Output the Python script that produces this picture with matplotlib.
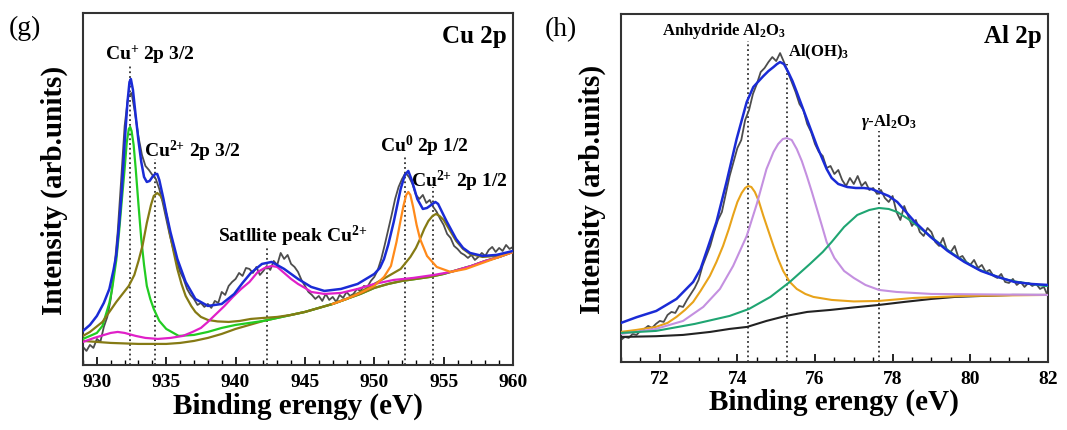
# %%
"""
XPS fits: (g) Cu 2p and (h) Al 2p, redrawn with matplotlib.
Curves are read off the published figure (arbitrary intensity units).
"""

import numpy as np
import matplotlib

matplotlib.use("Agg")
import matplotlib.pyplot as plt
from matplotlib.ticker import MultipleLocator

plt.rcParams["font.family"] = ["Liberation Serif", "DejaVu Serif"]
plt.rcParams["mathtext.fontset"] = "custom"
plt.rcParams["mathtext.rm"] = "Liberation Serif:bold"
plt.rcParams["mathtext.it"] = "Liberation Serif:italic:bold"
plt.rcParams["mathtext.bf"] = "Liberation Serif:bold"
plt.rcParams["mathtext.default"] = "rm"

# %%
# ---- Cu 2p panel data ----
cu_raw_start, cu_raw_stop = 929.0, 960.0
cu_raw = [18, 14, 20, 17, 26, 23, 38, 48, 66, 95,
          133, 185, 239, 268, 272, 252, 228, 210, 199, 195,
          190, 186, 176, 162, 146, 130, 116, 104, 93, 86,
          76, 70, 66, 60, 62, 58, 61, 57, 64, 62,
          73, 70, 79, 83, 86, 92, 89, 97, 96, 92,
          98, 90, 94, 99, 95, 104, 100, 112, 106, 110,
          101, 98, 93, 85, 79, 73, 70, 66, 69, 64,
          71, 65, 68, 63, 70, 67, 73, 69, 71, 76,
          74, 79, 78, 84, 88, 95, 106, 120, 135, 150,
          166, 178, 186, 192, 188, 181, 170, 166, 170, 162,
          165, 158, 153, 146, 140, 131, 127, 119, 116, 112,
          110, 107, 110, 105, 108, 112, 109, 115, 118, 113,
          117, 114, 120, 116, 118]

cu_env_x = [929.0, 929.5, 930.0, 930.5, 930.9, 931.2, 931.4, 931.6, 931.8, 932.0,
            932.2, 932.35, 932.45, 932.6, 932.8, 933.0, 933.2, 933.4, 933.6, 933.8,
            934.0, 934.2, 934.35, 934.5, 934.8, 935.0, 935.3, 935.8, 936.4, 937.1,
            938.0, 939.0, 939.9, 940.5, 941.1, 941.9, 942.6, 943.5, 944.5, 945.45,
            946.4, 947.6, 948.8, 950.0, 950.4, 950.7, 951.0, 951.4, 951.9, 952.2,
            952.45, 952.7, 953.1, 953.5, 953.8, 954.1, 954.4, 954.6, 955.2, 955.9,
            956.4, 956.9, 957.8, 958.8, 960.0]
cu_env_y = [34, 40, 49, 62, 76, 95, 110, 140, 175, 222,
            262, 283, 286, 275, 249, 224, 203, 188, 183, 184,
            188, 191, 191, 185, 166, 152, 133, 106, 83, 66,
            59, 61, 71, 82, 92, 101, 103, 96, 86, 78,
            74, 76, 81, 91, 97, 106, 120, 143, 176, 190,
            194, 185, 166, 156, 157, 160, 163, 161, 144, 126,
            117, 112, 109, 110, 114]

# Cu+ 2p 3/2 (green)
cu1_x = [929, 930, 930.4, 930.9, 931.1, 931.4, 931.6, 931.8, 932.0, 932.15,
         932.3, 932.4, 932.5, 932.65, 932.8, 933.0, 933.2, 933.4, 933.6, 933.85,
         934.1, 934.5, 935.0, 935.9, 937, 938, 939, 940, 941, 942,
         943, 944, 945, 946, 947, 948, 949, 950, 951, 952,
         953, 954, 955, 956, 957, 958, 959, 960]
cu1_y = [26, 32, 39, 62, 76, 105, 133, 165, 196, 222,
         236, 238, 234, 220, 196, 160, 126, 100, 79, 66,
         56, 44, 36, 29, 30, 33, 37, 40, 42, 44,
         47, 50, 53, 57, 61, 66, 71, 77, 81, 84,
         86, 88, 91, 95, 99, 104, 108, 113]

# Cu2+ 2p 3/2 (olive)
cu2_x = [929, 929.5, 930.4, 931.4, 932.3, 932.7, 933.0, 933.3, 933.6, 933.9,
         934.1, 934.35, 934.6, 934.8, 935.05, 935.3, 935.55, 935.8, 936.1, 936.4,
         936.8, 937.1, 937.5, 938.0, 938.7, 939.5, 940.3, 941.1, 942, 943,
         944, 945, 946, 947, 948, 949, 950, 951, 952, 953,
         954, 955, 956, 957, 958, 959, 960]
cu2_y = [29, 33, 43, 63, 79, 90, 104, 120, 142, 160,
         169, 172, 169, 163, 148, 129, 112, 96, 81, 69,
         59, 53, 48, 45, 43.5, 43, 44, 46, 47, 48,
         50, 53, 57, 61, 66, 71, 77, 81, 84, 86,
         88, 91, 95, 99, 104, 108, 113]

# satellite Cu2+ (magenta)
sat_x = [929, 929.8, 930.4, 931.0, 931.5, 932.0, 932.8, 933.5, 934.4, 935.3,
         936.2, 936.9, 937.5, 938.0, 938.6, 939.2, 939.8, 940.4, 941.0, 941.6,
         942.1, 942.6, 943.0, 943.5, 944.0, 944.5, 945.0, 945.45, 946.4, 947.6,
         948.8, 950.0, 951.4, 952.8, 954.3, 955.5, 956.5, 957, 958, 959,
         960]
sat_y = [23, 27, 29.5, 32, 33, 32, 29, 27, 26, 27,
         29, 33, 37, 43, 51, 59, 68, 76, 83, 93,
         97, 99, 98, 92, 86, 81, 77, 73, 71, 72,
         76, 81, 85, 87, 90, 93, 97, 99, 104, 108,
         113]

# Cu0 2p 1/2 (orange)
cu0_x = [947, 948, 949, 950, 950.7, 951.2, 951.6, 951.9, 952.1, 952.3,
         952.45, 952.6, 952.8, 953.05, 953.3, 953.8, 954.5, 955.5, 956.6, 957.8,
         958.8, 960]
cu0_y = [61, 66, 72, 79, 88, 99, 123, 145, 159, 170,
         173, 170, 158, 140, 126, 109, 98, 93, 96, 102,
         107, 113]

# Cu2+ 2p 1/2 (olive, includes background on the low-energy side)
cu4_x = [929, 930, 931, 932, 933, 934, 935, 936, 937, 938,
         939, 940, 941, 942, 943, 944, 945, 946, 947, 948,
         949, 950, 950.9, 951.9, 952.6, 953.0, 953.3, 953.6, 953.9, 954.2,
         954.45, 954.7, 955.0, 955.3, 955.6, 955.9, 956.4, 956.9, 957.8, 958.8,
         960]
cu4_y = [24, 23, 22, 21.5, 21, 21, 21, 22, 24, 27,
         31, 36, 40, 44, 47, 50, 53, 57, 61, 66,
         73, 81, 88, 96, 108, 117, 126, 136, 144, 149,
         151, 149, 145, 138, 131, 124, 116, 111, 108, 109,
         113]

cu_marks = [932.4, 934.2, 942.3, 952.2, 954.2]
cu_mark_tops = [301, 206, 118, 209, 178]
cu_labels = ["Cu$^{{+}}$ 2p 3/2", "Cu$^{2{+}}$ 2p 3/2", "Satllite peak Cu$^{2{+}}$",
             "Cu$^{0}$ 2p 1/2", "Cu$^{2{+}}$ 2p 1/2"]
cu_label_x = [933.8, 936.9, 944.1, 953.6, 956.1]
cu_label_y = [311, 215, 130, 220, 185]

# %%
# ---- Al 2p panel data ----
al_raw_start, al_raw_stop = 71.0, 82.0
al_raw = [22, 25, 24, 28, 27, 31, 33, 36, 34, 38,
          41, 40, 47, 50, 49, 56, 55, 62, 68, 74,
          82, 96, 106, 116, 130, 142, 150, 168, 186, 200,
          214, 222, 242, 252, 268, 278, 290, 294, 300, 305,
          301, 309, 300, 290, 280, 270, 258, 252, 238, 230,
          218, 210, 206, 194, 196, 188, 192, 182, 176, 184,
          178, 186, 176, 180, 172, 174, 168, 172, 164, 160,
          166, 150, 142, 156, 146, 136, 142, 130, 126, 134,
          130, 120, 116, 124, 112, 110, 116, 104, 106, 100,
          97, 102, 94, 97, 90, 92, 86, 84, 88, 80,
          79, 83, 77, 80, 75, 79, 76, 78, 73, 75,
          66]

al_env_x = [71.0, 71.4, 71.91, 72.43, 72.86, 73.05, 73.2, 73.46, 73.72, 73.98,
            74.24, 74.41, 74.55, 74.67, 74.8, 74.93, 75.02, 75.1, 75.2, 75.31,
            75.42, 75.53, 75.79, 76.05, 76.3, 76.43, 76.6, 76.83, 77.05, 77.26,
            77.45, 77.65, 77.9, 78.12, 78.55, 78.98, 79.42, 79.85, 80.28, 80.71,
            81.14, 81.57, 82.0]
al_env_y = [39, 44.7, 51, 63, 80, 93, 110, 140, 180, 223,
            260, 275, 281, 286, 291, 295, 298, 300, 298, 290,
            281, 270, 243, 216, 193, 184, 178, 175, 174, 174,
            173, 170, 166, 160, 141, 125, 111, 100, 91, 85,
            80, 78, 77]

al_bg_x = [71.0, 71.9, 72.6, 73.3, 73.8, 74.25, 74.75, 75.25, 75.8, 76.4,
           77.0, 77.65, 78.3, 79.0, 79.6, 80.3, 81.1, 82.0]
al_bg_y = [25, 25.7, 27, 30, 33, 35, 41, 46, 50, 52,
           54.5, 57, 60, 63, 65, 66, 67, 67]

# anhydride Al2O3 (gold)
al1_x = [71.0, 71.4, 71.9, 72.2, 72.43, 72.65, 72.86, 73.05, 73.29, 73.46,
         73.63, 73.78, 73.89, 74.0, 74.11, 74.2, 74.28, 74.36, 74.45, 74.55,
         74.67, 74.8, 74.93, 75.05, 75.18, 75.35, 75.53, 75.75, 75.96, 76.43,
         77.0, 77.65, 78.55, 79.85, 82.0]
al1_y = [30, 32, 35, 39, 45, 52, 60, 71, 86, 100,
         116, 133, 147, 160, 169, 174, 176, 175, 170, 161,
         146, 131, 116, 103, 91, 80, 73, 68, 65, 62,
         60.5, 61, 64, 66, 67]

# Al(OH)3 (lilac)
al2_x = [71.0, 71.9, 72.6, 73.12, 73.55, 73.89, 74.24, 74.5, 74.75, 74.93,
         75.05, 75.17, 75.27, 75.4, 75.53, 75.66, 75.79, 75.92, 76.05, 76.18,
         76.3, 76.5, 76.75, 77.0, 77.3, 77.65, 78.1, 79.0, 80.5, 82.0]
al2_y = [28, 33, 41, 55, 73, 96, 126, 158, 193, 210,
         218, 223, 224, 222, 213, 201, 186, 170, 153, 136,
         120, 104, 91, 84, 77, 72, 70, 68, 67.5, 67]

# gamma-Al2O3 (green)
al3_x = [71.0, 71.9, 72.9, 73.8, 74.3, 74.85, 75.35, 75.87, 76.2, 76.43,
         76.75, 77.09, 77.4, 77.65, 77.9, 78.12, 78.4, 78.64, 78.9, 79.16,
         79.42, 79.67, 79.93, 80.19, 80.45, 80.71, 80.97, 81.23, 81.57, 81.91,
         82.0]
al3_y = [29, 31, 38, 46, 53, 65, 80, 98, 110, 120,
         135, 147, 152, 154, 153, 150, 143, 136, 128, 120,
         112, 105, 99, 93, 89, 85, 82, 80, 78, 76,
         76]

al_marks = [74.28, 75.28, 77.65]
al_mark_tops = [321, 298, 231]
al_labels = ["Anhydride Al$_2$O$_3$", "Al(OH)$_3$", "$\\mathit{\\gamma}$-Al$_2$O$_3$"]
al_label_x = [73.65, 75.3, 77.9]
al_label_y = [332, 311, 241]
al_label_ha = ["center", "left", "center"]


# %%
def style_axes(ax, xlim, ylim, major, minor):
    """Box frame, inward ticks on the bottom only, no y ticks."""
    ax.set_xlim(*xlim)
    ax.set_ylim(*ylim)
    ax.xaxis.set_major_locator(MultipleLocator(major))
    ax.xaxis.set_minor_locator(MultipleLocator(minor))
    ax.tick_params(axis="x", which="major", direction="in", length=6, width=1.2,
                   pad=6, labelsize=14, top=False)
    ax.tick_params(axis="x", which="minor", direction="in", length=3.5, width=1.0,
                   top=False)
    ax.set_yticks([])
    for lab in ax.get_xticklabels():
        lab.set_fontweight("bold")
    for sp in ax.spines.values():
        sp.set_linewidth(1.5)
        sp.set_color("#333333")
    ax.set_xlabel("Binding erengy (eV)", fontsize=21, fontweight="bold")
    ax.set_ylabel("Intensity (arb.units)", fontsize=21, fontweight="bold")
    ax.xaxis.set_label_coords(0.5, -0.075)
    ax.yaxis.set_label_coords(-0.035, 0.5)


fig = plt.figure(figsize=(10.67, 4.31), dpi=100)
ax1 = fig.add_axes([0.0778, 0.151, 0.403, 0.8165])
ax2 = fig.add_axes([0.582, 0.158, 0.400, 0.807])

# %%
# Cu 2p
cu_x = np.linspace(cu_raw_start, cu_raw_stop, len(cu_raw))
ax1.plot(cu_x, cu_raw, color="#4d4d4d", lw=1.3, zorder=2)
ax1.plot(cu4_x, cu4_y, color="#857a14", lw=1.6, zorder=3)
ax1.plot(cu1_x, cu1_y, color="#22cc22", lw=1.6, zorder=3)
ax1.plot(cu2_x, cu2_y, color="#857a14", lw=1.6, zorder=3)
ax1.plot(sat_x, sat_y, color="#e020c8", lw=1.6, zorder=3)
ax1.plot(cu0_x, cu0_y, color="#ff8a1a", lw=1.6, zorder=3)
ax1.plot(cu_env_x, cu_env_y, color="#1a2bd6", lw=1.8, zorder=4)
ax1.vlines(cu_marks, 0, cu_mark_tops, colors="#333333", linestyles=":", lw=1.3, zorder=1)
for lab, lx, ly in zip(cu_labels, cu_label_x, cu_label_y):
    ax1.text(lx, ly, lab, ha="center", va="center", fontsize=14, fontweight="bold")
ax1.text(0.986, 0.935, "Cu 2p", transform=ax1.transAxes, ha="right", va="center",
         fontsize=18, fontweight="bold")
style_axes(ax1, (929.0, 960.0), (0, 352), 5, 1)

# %%
# Al 2p
al_x = np.linspace(al_raw_start, al_raw_stop, len(al_raw))
ax2.plot(al_x, al_raw, color="#4d4d4d", lw=1.3, zorder=2)
ax2.plot(al_bg_x, al_bg_y, color="#222222", lw=1.5, zorder=3)
ax2.plot(al1_x, al1_y, color="#e8a31a", lw=1.5, zorder=3)
ax2.plot(al2_x, al2_y, color="#c490e0", lw=1.5, zorder=3)
ax2.plot(al3_x, al3_y, color="#1fa572", lw=1.5, zorder=3)
ax2.plot(al_env_x, al_env_y, color="#1a2bd6", lw=1.8, zorder=4)
ax2.vlines(al_marks, 0, al_mark_tops, colors="#333333", linestyles=":", lw=1.3, zorder=1)
for lab, lx, ly, ha in zip(al_labels, al_label_x, al_label_y, al_label_ha):
    ax2.text(lx, ly, lab, ha=ha, va="center", fontsize=12, fontweight="bold")
ax2.text(0.986, 0.937, "Al 2p", transform=ax2.transAxes, ha="right", va="center",
         fontsize=18, fontweight="bold")
style_axes(ax2, (71.0, 82.0), (0, 348), 2, 0.5)

# panel letters
fig.text(0.008, 1 - 28 / 431, "(g)", fontsize=20, va="center", ha="left")
fig.text(0.511, 1 - 30 / 431, "(h)", fontsize=20, va="center", ha="left")

fig.savefig("out.png", dpi=100)
